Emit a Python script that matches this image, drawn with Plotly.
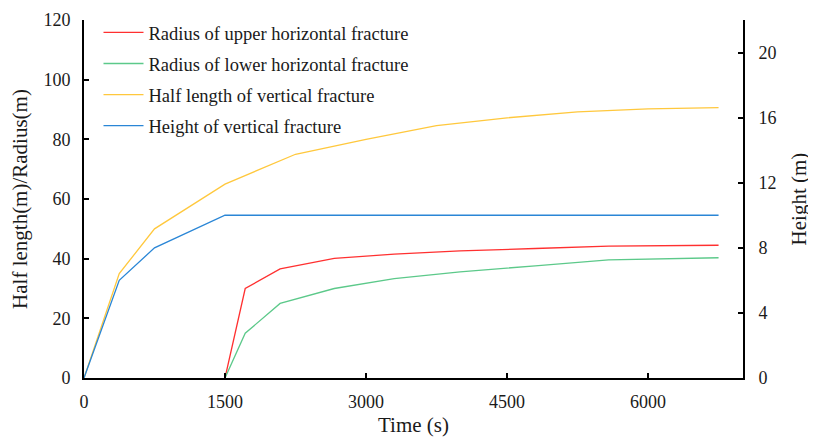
import plotly.graph_objects as go

# Time (s) and values per series
t_upper = [1500, 1715, 2086, 2662, 3300, 4000, 4800, 5580, 6750]
r_upper = [0, 30, 36.6, 40.1, 41.5, 42.6, 43.4, 44.2, 44.5]

t_lower = [1500, 1715, 2086, 2662, 3300, 4000, 4800, 5580, 6750]
r_lower = [0, 15, 25, 30, 33.3, 35.6, 37.6, 39.6, 40.3]

t_half = [0, 375, 750, 1500, 2250, 3000, 3750, 4500, 5250, 6000, 6750]
half_len = [0, 35, 50, 65, 75, 80, 84.6, 87.2, 89.2, 90.2, 90.6]

t_height = [0, 375, 750, 1500, 6750]
height = [0, 6, 8, 10, 10]

x_ticks = [0, 1500, 3000, 4500, 6000]
yl_ticks = [0, 20, 40, 60, 80, 100, 120]
yr_ticks = [0, 4, 8, 12, 16, 20]

FONT = "Times New Roman, Liberation Serif, serif"

fig = go.Figure()
fig.add_trace(go.Scatter(x=t_upper, y=r_upper, mode="lines", name="Radius of upper horizontal fracture",
                         line=dict(color="#FF3030", width=1.3), legendgroup="a"))
fig.add_trace(go.Scatter(x=t_lower, y=r_lower, mode="lines", name="Radius of lower horizontal fracture",
                         line=dict(color="#5CC98A", width=1.3), legendgroup="b"))
fig.add_trace(go.Scatter(x=t_half, y=half_len, mode="lines", name="Half length of vertical fracture",
                         line=dict(color="#FFC83D", width=1.3), legendgroup="c"))
fig.add_trace(go.Scatter(x=t_height, y=height, mode="lines", name="Height of vertical fracture",
                         line=dict(color="#2A86D6", width=1.3), legendgroup="d", yaxis="y2"))

fig.update_layout(
    width=816, height=437,
    margin=dict(l=76, r=81, t=12, b=67, autoexpand=False),
    paper_bgcolor="white", plot_bgcolor="white",
    font=dict(family=FONT, size=17, color="#1a1a1a"),
    showlegend=True,
    legend=dict(x=0.022, y=1.017, xanchor="left", yanchor="top", bgcolor="rgba(0,0,0,0)",
                font=dict(family=FONT, size=18.5), itemwidth=40, tracegroupgap=4,
                traceorder="grouped"),
    xaxis=dict(range=[0, 7010], tickvals=x_ticks, ticktext=[str(v) for v in x_ticks],
               showline=True, linecolor="black", linewidth=2, ticks="inside", ticklen=5,
               tickwidth=2, tickcolor="black", showgrid=False, zeroline=False, automargin=False,
               tickfont=dict(family=FONT, size=18), ticklabelstandoff=6,
               title=dict(text="Time (s)", font=dict(family=FONT, size=21), standoff=7)),
    yaxis=dict(range=[0, 120], tickvals=yl_ticks, showline=True, linecolor="black", linewidth=2,
               ticks="inside", ticklen=5, tickwidth=2, tickcolor="black", showgrid=False,
               zeroline=False, automargin=False, tickfont=dict(family=FONT, size=18),
               ticklabelstandoff=8,
               title=dict(text="Half length(m)/Radius(m)", font=dict(family=FONT, size=21), standoff=10)),
    yaxis2=dict(range=[0, 22], tickvals=yr_ticks, overlaying="y", side="right", anchor="x",
                showline=True, linecolor="black", linewidth=2, ticks="inside", ticklen=5,
                tickwidth=2, tickcolor="black", showgrid=False, zeroline=False, automargin=False,
                tickfont=dict(family=FONT, size=18), ticklabelstandoff=10,
                title=dict(text="Height (m)", font=dict(family=FONT, size=21), standoff=16)),
)

fig.write_html("out.html")
